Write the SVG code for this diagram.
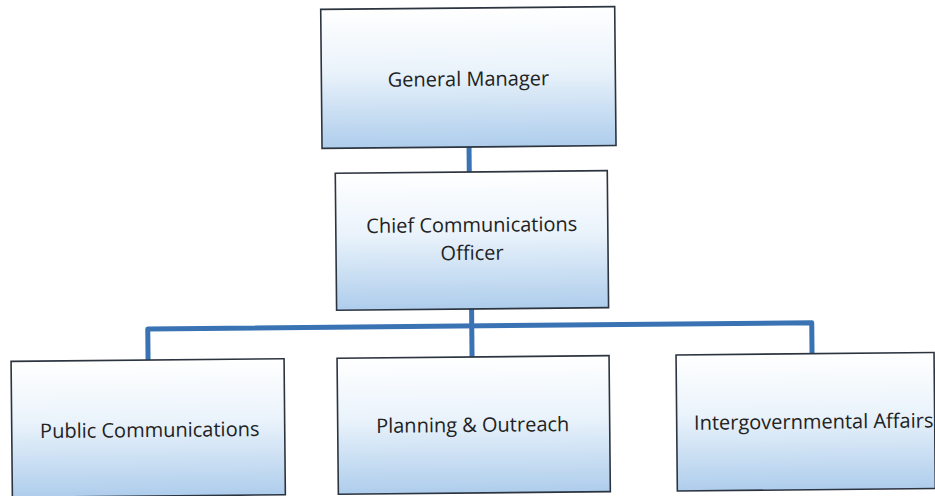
<svg xmlns="http://www.w3.org/2000/svg" width="935" height="496" viewBox="0 0 935 496">
<defs>
<linearGradient id="g" x1="0" y1="0" x2="0" y2="1">
<stop offset="0" stop-color="#ffffff"/>
<stop offset="0.45" stop-color="#eaf3fb"/>
<stop offset="1" stop-color="#aecdec"/>
</linearGradient>
</defs>
<style>
.box{fill:url(#g);stroke:#2c3440;stroke-width:1.6}
.t{font-family:"Open Sans","Liberation Sans",sans-serif;font-size:20px;fill:#222;text-anchor:middle}
.c{fill:none;stroke:#3a73b4;stroke-width:5;stroke-linejoin:round}
</style>
<rect width="935" height="496" fill="#ffffff"/>
<g transform="rotate(-0.55 467 248)">
<g id="connectors">
<line class="c" x1="470" y1="147" x2="470" y2="172"/>
<line class="c" x1="471" y1="309" x2="471" y2="357"/>
<path class="c" d="M147,357 V326 H811 V357"/>
</g>
<g id="gm">
<rect class="box" x="323" y="8" width="294" height="139"/>
<text class="t" x="470" y="86">General Manager</text>
</g>
<g id="cco">
<rect class="box" x="336" y="172" width="272" height="137"/>
<text class="t" x="472" y="232">Chief Communications</text>
<text class="t" x="472" y="260">Officer</text>
</g>
<g id="public">
<rect class="box" x="10" y="357" width="273" height="136"/>
<text class="t" x="148" y="434">Public Communications</text>
</g>
<g id="planning">
<rect class="box" x="336" y="357" width="272" height="136"/>
<text class="t" x="471" y="432">Planning &amp; Outreach</text>
</g>
<g id="intergov">
<rect class="box" x="675" y="357" width="258" height="136"/>
<text class="t" x="812" y="432">Intergovernmental Affairs</text>
</g>
</g>
</svg>
